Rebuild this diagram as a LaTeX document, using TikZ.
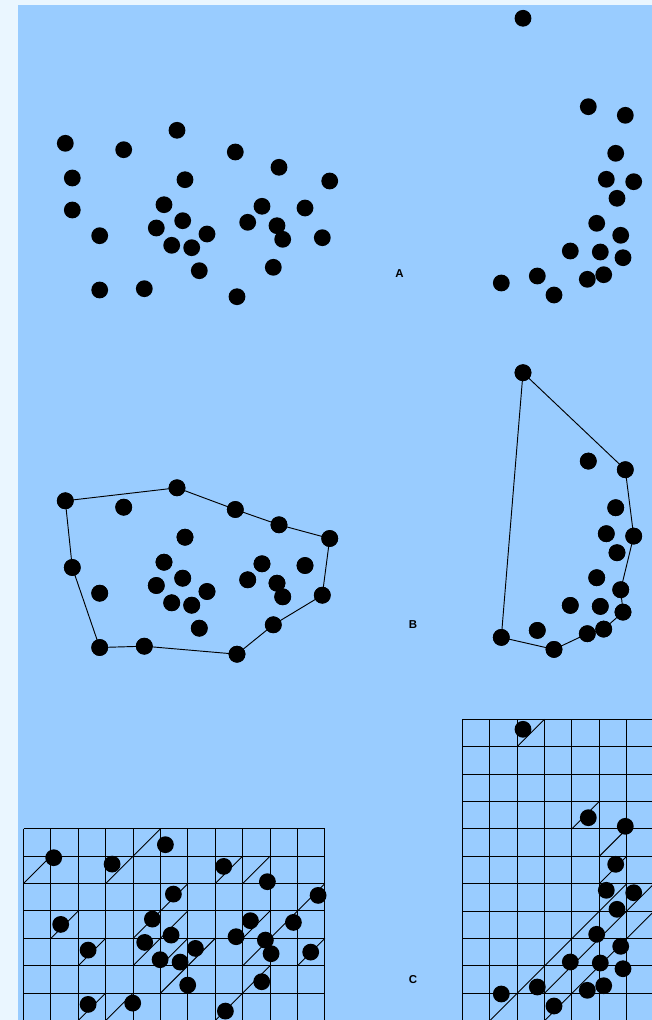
\documentclass[tikz,border=0pt]{standalone}
\usepackage{fontspec}
\setsansfont{Liberation Sans}
\definecolor{pagebg}{RGB}{234,246,255}
\definecolor{panelbg}{RGB}{153,204,255}
\def\leftpts{1/65.3/143.3, 2/123.7/149.7, 3/177/130.3, 4/235.3/152, 5/279/167.3, 6/329.7/181, 7/72.3/178, 8/185/179.7, 9/72.3/210, 10/164/204.7, 11/262/206.3, 12/305/208, 13/156.3/228, 14/182.7/220.7, 15/207/234, 16/247.7/222.3, 17/277/225.7, 18/282.7/239.3, 19/322.3/237.7, 20/99.7/235.7, 21/171.7/245.3, 22/191.7/247.7, 23/199.3/270.7, 24/273.3/267.3, 25/99.7/290, 26/144.3/288.7, 27/237/296.7}
\def\rightpts{1/523/18.3, 2/588.3/106.7, 3/625.3/115.3, 4/615.7/153.3, 5/606.3/179.3, 6/633.7/181.7, 7/617/198.3, 8/596.7/223.3, 9/620.7/235.3, 10/570.3/251, 11/600.3/252, 12/623/257.7, 13/537.3/276, 14/603.7/274.7, 15/587.3/279.3, 16/501.3/283, 17/554/295}
\begin{document}
\begin{tikzpicture}[x=0.75pt,y=-0.75pt,
  dot/.style={circle,fill=black,draw=none,minimum size=12.6pt,inner sep=0pt},
  hull/.style={draw=black,line width=0.7pt},
  gridline/.style={draw=black,line width=0.8pt},
  diagline/.style={draw=black,line width=0.7pt},
  lbl/.style={font=\sffamily\bfseries\fontsize{8.6}{10}\selectfont,inner sep=0pt}]
\clip (0,0) rectangle (652,1020);
\fill[pagebg] (0,0) rectangle (652,1020);
\fill[panelbg] (18,5) rectangle (652,1020);

% ---------- Panel A ----------
\foreach \i/\x/\y in \leftpts { \node[dot] (a\i) at (\x,\y) {}; }
\foreach \i/\x/\y in \rightpts { \node[dot] (ar\i) at (\x,\y) {}; }
\node[lbl] (labA) at (399.5,273.5) {A};

% ---------- Panel B ----------
\foreach \i/\x/\y in \leftpts { \ifnum\i=7\relax\else \node[dot] (b\i) at (\x,{\y+357.5}) {}; \fi }
\foreach \i/\x/\y in \rightpts { \node[dot] (br\i) at (\x,{\y+354.4}) {}; }
\draw[hull] (b1.center) -- (b3.center) -- (b4.center) -- (b5.center) -- (b6.center)
  -- (b19.center) -- (b24.center) -- (b27.center) -- (b26.center) -- (b25.center)
  -- (b9.center) -- cycle;
\draw[hull] (br1.center) -- (br3.center) -- (br6.center) -- (br9.center) -- (br12.center)
  -- (br14.center) -- (br15.center) -- (br17.center) -- (br16.center) -- cycle;
\foreach \i/\x/\y in \leftpts { \ifnum\i=7\relax\else \fill[black] (b\i) circle (8.4); \fi }
\foreach \i/\x/\y in \rightpts { \fill[black] (br\i) circle (8.4); }
\node[lbl] (labB) at (413,624.5) {B};

% ---------- Panel C ----------
\def\s{27.4}
% left grid
\def\gx{23.5}\def\gy{828.7}
\foreach \k in {0,...,11} \draw[gridline] ({\gx+\k*\s},\gy) -- ({\gx+\k*\s},{\gy+7*\s});
\foreach \k in {0,...,7} \draw[gridline] (\gx,{\gy+\k*\s}) -- ({\gx+11*\s},{\gy+\k*\s});
\foreach \c/\r in {0/1, 3/1, 4/0, 7/1, 8/1, 1/3, 4/3, 5/2, 4/4, 5/3, 5/4, 5/5, 6/4, 2/4, 8/4, 9/3, 10/2, 8/3, 10/4, 7/6, 8/5, 2/6, 3/6}
  \draw[diagline] ({\gx+\c*\s},{\gy+(\r+1)*\s}) -- ({\gx+(\c+1)*\s},{\gy+\r*\s});
% right grid
\def\hx{462.3}\def\hy{719.3}
\foreach \k in {0,...,7} \draw[gridline] ({\hx+\k*\s},\hy) -- ({\hx+\k*\s},{\hy+11*\s});
\foreach \k in {0,...,11} \draw[gridline] (\hx,{\hy+\k*\s}) -- ({\hx+7*\s},{\hy+\k*\s});
\foreach \c/\r in {2/0, 4/3, 5/4, 5/5, 1/10, 2/9, 3/8, 4/7, 5/6, 3/10, 4/9, 5/8, 6/7, 3/9, 4/8, 5/7, 6/6}
  \draw[diagline] ({\hx+\c*\s},{\hy+(\r+1)*\s}) -- ({\hx+(\c+1)*\s},{\hy+\r*\s});
% points
\foreach \i/\x/\y in \leftpts { \ifnum\i=7\relax\else \node[dot] (c\i) at ({\x-11.6},{\y+714.4}) {}; \fi }
\foreach \i/\x/\y in \rightpts { \node[dot] (cr\i) at (\x,{\y+711}) {}; }
\node[lbl] (labC) at (413,979.5) {C};
\end{tikzpicture}
\end{document}
